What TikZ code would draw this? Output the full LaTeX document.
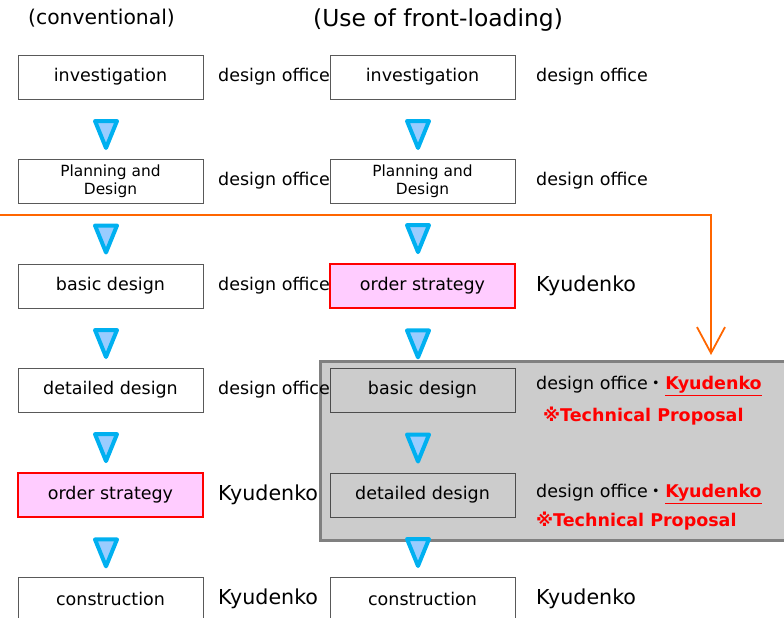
\documentclass[tikz,border=0pt]{standalone}
\usepackage{fontspec}
\setmainfont{DejaVu Sans}
\newfontfamily\jpfont{Noto Sans CJK JP}
\usetikzlibrary{arrows.meta,calc}
\definecolor{flowblue}{HTML}{00B0F0}
\definecolor{flowfill}{HTML}{99CCFF}
\definecolor{orderpink}{HTML}{FFCCFF}
\definecolor{frontorange}{HTML}{FF6600}
\definecolor{panelgray}{HTML}{CCCCCC}
\tikzset{
	stage/.style={draw=black!65, minimum width=185pt, minimum height=44pt, inner sep=0pt, font=\fontsize{17.5}{20}\selectfont},
	orderstage/.style={stage, draw=red, line width=2pt, fill=orderpink},
	panelstage/.style={stage, draw=black!70, fill=panelgray},
	who/.style={anchor=west, inner sep=0pt, font=\fontsize{17.5}{20}\selectfont},
	firm/.style={anchor=west, inner sep=0pt, font=\fontsize{20.6}{24}\selectfont},
	proposal/.style={who, text=red, font=\fontsize{17.5}{20}\selectfont\bfseries},
	tri/.style={draw=flowblue, fill=flowfill, line width=4pt, line join=round},
}
\newcommand{\kyu}{\textcolor{red}{\textbf{\underline{Kyudenko}}}}
\begin{document}
\begin{tikzpicture}[x=1pt,y=-1pt]
		\clip (0,0) rectangle (784,618);
		\node (T1) at (101.5,18) [font=\fontsize{20.3}{24}\selectfont] {(conventional)};
		\node (T2) at (438,20) [font=\fontsize{23.4}{28}\selectfont] {(Use of front-loading)};
		
		\draw [draw=black!50, fill=panelgray, line width=3pt] (320,361) rectangle (800,540);
		
		\node (L1) at (110.5,77) [stage] {investigation};
		\node (L2) at (110.5,181) [stage, align=center, font=\fontsize{15.4}{18}\selectfont] {Planning and\\Design};
		\node (L3) at (110.5,286) [stage] {basic design};
		\node (L4) at (110.5,390) [stage] {detailed design};
		\node (L5) at (110.5,495) [orderstage] {order strategy};
		\node (L6) at (110.5,599) [stage] {construction};
		
		\node (R1) at (422.5,77) [stage] {investigation};
		\node (R2) at (422.5,181) [stage, align=center, font=\fontsize{15.4}{18}\selectfont] {Planning and\\Design};
		\node (R3) at (422.5,286) [orderstage] {order strategy};
		\node (R4) at (422.5,390) [panelstage] {basic design};
		\node (R5) at (422.5,495) [panelstage] {detailed design};
		\node (R6) at (422.5,599) [stage] {construction};
		
		\node (WL1) at (218,77) [who] {design office};
		\node (WL2) at (218,181) [who] {design office};
		\node (WL3) at (218,286) [who] {design office};
		\node (WL4) at (218,390) [who] {design office};
		\node (WL5) at (218,495) [firm] {Kyudenko};
		\node (WL6) at (218,599) [firm] {Kyudenko};
		
		\node (WR1) at (536,77) [who] {design office};
		\node (WR2) at (536,181) [who] {design office};
		\node (WR3) at (536,286) [firm] {Kyudenko};
		\node (WR4) at (536,386) [who] {design office{\jpfont ・}\kyu};
		\node (PR4) at (543,416) [proposal] {※Technical Proposal};
		\node (WR5) at (536,494) [who] {design office{\jpfont ・}\kyu};
		\node (PR5) at (536,521) [proposal] {※Technical Proposal};
		\node (WR6) at (536,599) [firm] {Kyudenko};
		
		\foreach \a/\b in {L1/L2,L2/L3,L3/L4,L4/L5,L5/L6,R1/R2,R2/R3,R3/R4,R4/R5,R5/R6}
		\draw [tri] ($(\a.south)!0.5!(\b.north)+(-4.5,5)$) ++(-11,-13) -- ++(22,0) -- ++(-11,27) -- cycle;
		
		\coordinate (front) at (0,215);
		\coordinate (panel) at (711,355);
		\draw [frontorange, line width=1.8pt, -{Straight Barb[length=26pt,width=28pt]}] (front) -| (panel);
\end{tikzpicture}
\end{document}
